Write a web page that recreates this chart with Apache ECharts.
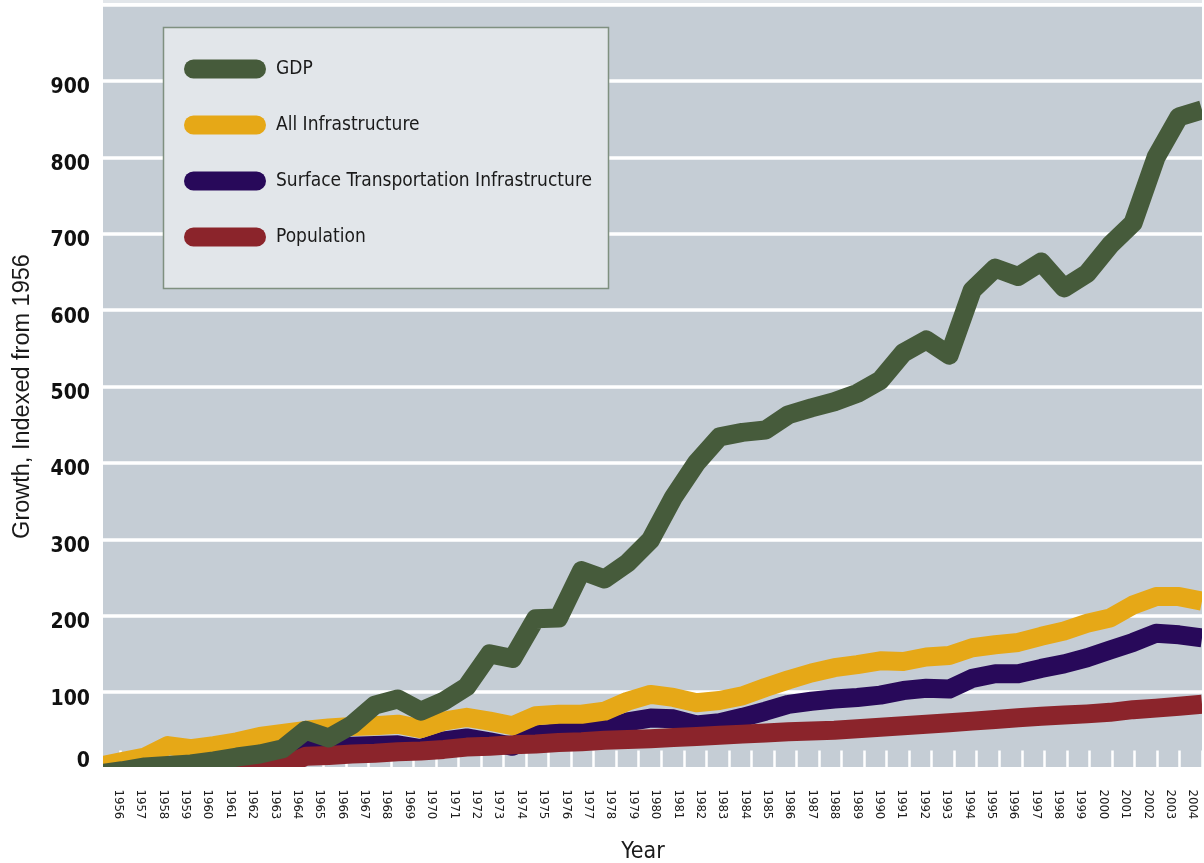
<!DOCTYPE html>
<html>
<head>
<meta charset="utf-8">
<script src="https://cdn.jsdelivr.net/npm/echarts@6/dist/echarts.min.js"></script>
<style>html,body{margin:0;padding:0;background:#fff}#c{width:1204px;height:863px}</style>
</head>
<body>
<div id="c"></div>
<script>
const years = ['1956','1957','1958','1959','1960','1961','1962','1963','1964','1965','1966','1967','1968','1969','1970','1971','1972','1973','1974','1975','1976','1977','1978','1979','1980','1981','1982','1983','1984','1985','1986','1987','1988','1989','1990','1991','1992','1993','1994','1995','1996','1997','1998','1999','2000','2001','2002','2003','2004'];
const gdp = [-7,-3,2,4,6,10,15,19,26,50,40,57,83,91,75,88,107,150,144,196,197,259,248,269,299,355,400,434,440,443,463,472,480,491,508,544,561,541,626,655,644,663,629,648,685,714,800,853,862];
const allInfra = [3,9,15,30,26,30,35,42,46,50,53,55,56,58,52,62,67,62,56,69,71,71,75,88,97,93,86,89,95,106,116,125,132,136,141,140,146,148,158,162,165,173,180,190,197,214,225,225,219];
const surfaceTransport = [-8,-4,1,3,5,9,14,18,24,24,27,29,30,31,26,36,40,35,29,44,47,47,51,61,66,65,57,60,67,75,84,88,91,93,96,102,105,104,118,124,124,131,137,145,155,165,177,175,171];
const population = [null,null,null,null,null,-10,-6,-2,3,16,17,19,20,22,23,25,28,29,31,32,34,35,37,38,39,40.5,42,43.5,45,46.5,48,49,50,52,54,56,58,60,62,64,66.5,68.5,70,71.5,73.5,77,79,81.5,84];
const yTicks = [0,100,200,300,400,500,600,700,800,900];
const seriesNames = ['GDP','All Infrastructure','Surface Transportation Infrastructure','Population'];

const NARROW = '"Liberation Sans Narrow","DejaVu Sans Condensed",sans-serif';
const TOP = 4.5, BOTTOM = 94.5;
const colors = {gdp:'#465b3b', all:'#e6a817', surf:'#28095a', pop:'#8b242b'};

const chart = echarts.init(document.getElementById('c'), null, {renderer:'canvas'});
const lineSeries = (name, data, color) => ({
  name, type:'line', data, xAxisIndex:3, yAxisIndex:3,
  symbol:'none', color,
  lineStyle:{color, width:19, join:'round', cap:'butt'},
  emphasis:{disabled:true}
});

chart.setOption({
  animation:false,
  backgroundColor:'#ffffff',
  grid:[
    {left:103, right:2, top:TOP, bottom:BOTTOM, show:true, backgroundColor:'#c5cdd5', borderWidth:0},
    {left:98, right:2, top:TOP, bottom:BOTTOM},
    {left:107, right:0, top:TOP, bottom:BOTTOM},
    {left:99, right:2, top:TOP, bottom:BOTTOM}
  ],
  xAxis:[
    {gridIndex:0, type:'category', data:years, show:false},
    {gridIndex:1, type:'category', data:years, boundaryGap:true, z:0,
     axisLine:{show:false}, axisLabel:{show:false},
     axisTick:{show:true, inside:true, length:18, interval:0, lineStyle:{color:'#ffffff', width:2.5}}},
    {gridIndex:2, type:'category', data:years, boundaryGap:true, z:20,
     axisLine:{show:false}, axisTick:{show:false},
     axisLabel:{interval:0, rotate:-90, margin:21, fontSize:13, color:'#1e1e1e', fontFamily:NARROW}},
    {gridIndex:3, type:'category', data:years, boundaryGap:false, show:false}
  ],
  yAxis:[
    {gridIndex:0, type:'value', min:0, max:1000, interval:100, z:0,
     axisLine:{show:false}, axisTick:{show:false}, axisLabel:{show:false},
     splitLine:{show:true, lineStyle:{color:'#ffffff', width:3.5}}},
    {gridIndex:1, type:'value', min:0, max:1000, interval:100, z:20,
     axisLine:{show:false}, axisTick:{show:false}, splitLine:{show:false},
     axisLabel:{margin:8,
       formatter:v => yTicks.indexOf(v) < 0 ? '' : (v === 0 ? '{z|0}' : '{n|' + v + '}'),
       rich:{
         n:{fontSize:21, fontWeight:'bold', fontFamily:NARROW, color:'#111', padding:[14,0,0,0]},
         z:{fontSize:21, fontWeight:'bold', fontFamily:NARROW, color:'#111', padding:[0,0,13,0]}
       }}},
    {gridIndex:2, type:'value', min:0, max:1000, show:false},
    {gridIndex:3, type:'value', min:0, max:1000, show:false}
  ],
  legend:{
    data:seriesNames, orient:'vertical', left:184, top:59.5, padding:0,
    itemWidth:82, itemHeight:19, itemGap:37, selectedMode:false, z:30,
    icon:'path://M9.5,0H72.5A9.5,9.5,0,0,1,72.5,19H9.5A9.5,9.5,0,0,1,9.5,0Z',
    itemStyle:{borderWidth:0},
    textStyle:{fontSize:19, fontFamily:NARROW, color:'#1a1a1a', lineHeight:19, padding:[0,0,0,5]}
  },
  graphic:{elements:[
    {type:'rect', silent:true, z:10, shape:{x:0, y:0, width:103, height:863}, style:{fill:'#ffffff'}},
    {type:'rect', silent:true, z:10, shape:{x:0, y:767, width:1204, height:96}, style:{fill:'#ffffff'}},
    {type:'rect', silent:true, z:10, shape:{x:1202, y:0, width:2, height:863}, style:{fill:'#ffffff'}},
    {type:'rect', silent:true, z:10, shape:{x:103, y:0, width:1099, height:3}, style:{fill:'#e2e6ea'}},
    {type:'rect', silent:true, z:25, shape:{x:163.5, y:27.5, width:445, height:261}, style:{fill:'#e2e6ea', stroke:'#7f9080', lineWidth:1.5}},
    {type:'text', silent:true, z:30, x:23, y:396.5, rotation:Math.PI/2,
     style:{text:'Growth, Indexed from 1956', font:'23.5px "Liberation Sans", sans-serif', fill:'#1a1a1a', textAlign:'center', textVerticalAlign:'middle'}},
    {type:'text', silent:true, z:30, x:643, y:852,
     style:{text:'Year', font:'23px ' + NARROW, fill:'#1a1a1a', textAlign:'center', textVerticalAlign:'middle'}}
  ]},
  series:[
    lineSeries('Surface Transportation Infrastructure', surfaceTransport, colors.surf),
    lineSeries('Population', population, colors.pop),
    lineSeries('All Infrastructure', allInfra, colors.all),
    lineSeries('GDP', gdp, colors.gdp)
  ]
});
</script>
</body>
</html>
